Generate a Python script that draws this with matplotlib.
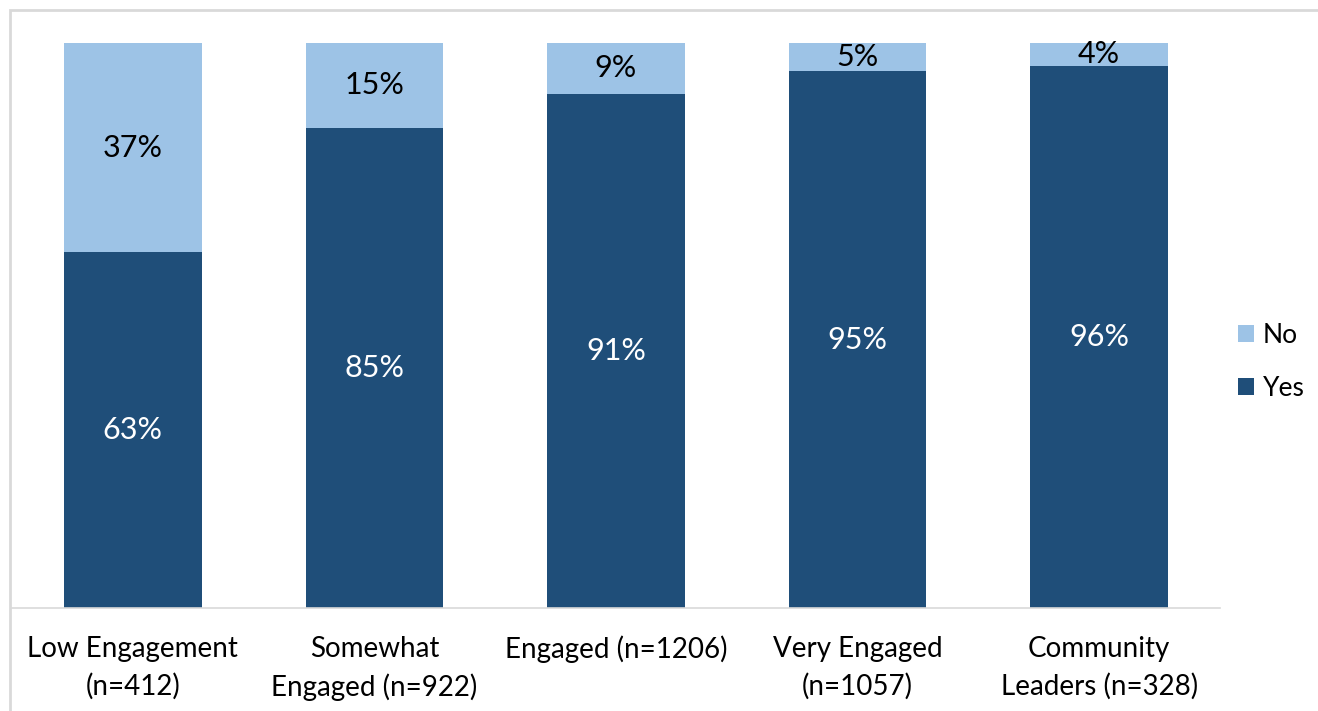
import matplotlib

matplotlib.use("Agg")
import matplotlib.pyplot as plt
from matplotlib.patches import Rectangle
import numpy as np

# Share of respondents answering Yes / No, by engagement level
categories = [
    "Low Engagement\n(n=412)",
    "Somewhat\nEngaged (n=922)",
    "Engaged (n=1206)",
    "Very Engaged\n(n=1057)",
    "Community\nLeaders (n=328)",
]
yes_pct = [63, 85, 91, 95, 96]
no_pct = [37, 15, 9, 5, 4]

YES_COLOR = "#1F4E79"
NO_COLOR = "#9DC3E6"

plt.rcParams["font.family"] = ["Lato", "DejaVu Sans"]

fig = plt.figure(figsize=(13.18, 7.11), dpi=100)
ax = fig.add_axes([12 / 1318, 103 / 711, 1208 / 1318, 565 / 711])

x = np.arange(len(categories))
yes = np.array(yes_pct) / 100
no = np.array(no_pct) / 100
width = 0.57

ax.bar(x, yes, width, color=YES_COLOR, label="Yes")
ax.bar(x, no, width, bottom=yes, color=NO_COLOR, label="No")

# value labels centred inside each segment
for xi, y_val, n_val, yp, npct in zip(x, yes, no, yes_pct, no_pct):
    ax.text(xi, y_val / 2, f"{yp}%", ha="center", va="center",
            color="white", fontsize=22)
    ax.text(xi, y_val + n_val / 2, f"{npct}%", ha="center", va="center",
            color="black", fontsize=22)

ax.set_xlim(-0.5, len(categories) - 0.5)
ax.set_ylim(0, 1)
ax.set_yticks([])
ax.set_xticks(x)
ax.set_xticklabels(categories, fontsize=20, linespacing=1.5)
ax.tick_params(axis="x", length=0, pad=20)
for side in ("top", "left", "right"):
    ax.spines[side].set_visible(False)
ax.spines["bottom"].set_color("#D9D9D9")
ax.spines["bottom"].set_linewidth(1.2)

handles, labels = ax.get_legend_handles_labels()
fig.legend(handles[::-1], labels[::-1], loc="center left",
           bbox_to_anchor=(1238 / 1318, 1 - 362 / 711), frameon=False,
           fontsize=19, handlelength=0.6, handleheight=0.6,
           handletextpad=0.35, labelspacing=1.05, borderpad=0,
           borderaxespad=0)

# light grey chart-area border
fig.patches.append(Rectangle((10 / 1318, -0.05), 1.2, 1 - 10 / 711 + 0.05,
                             transform=fig.transFigure, fill=False,
                             edgecolor="#D9D9D9", linewidth=2))

fig.savefig("out.png", dpi=100)
